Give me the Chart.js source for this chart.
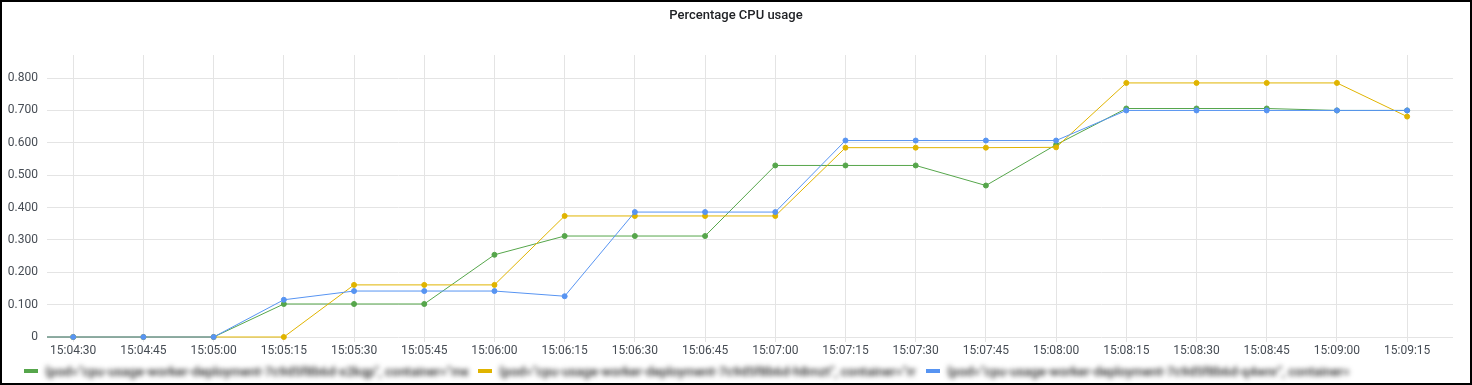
<!DOCTYPE html>
<html>
<head>
<meta charset="utf-8">
<script src="https://cdn.jsdelivr.net/npm/chart.js@4/dist/chart.umd.min.js"></script>
<style>
  html, body { margin: 0; padding: 0; background: #fff; }
  #panel { position: relative; width: 1472px; height: 385px; overflow: hidden; font-family: Roboto, "Noto Sans", sans-serif; }
  #frame { position: absolute; left: 0; top: 0; width: 1472px; height: 385px; box-sizing: border-box; border: 2px solid #000; pointer-events: none; }
  #title { position: absolute; left: 0; top: 7px; width: 1472px; text-align: center; font-size: 13px; font-weight: 500; color: #202226; }
  #chartBox { position: absolute; left: 0; top: 0; width: 1472px; height: 363px; }
  #legend { position: absolute; left: 24px; top: 361px; height: 20px; display: flex; align-items: center; font-size: 13px; font-weight: 500; color: #2a2a2a; }
  .item { display: flex; align-items: center; margin-right: 10px; }
  .swatch { width: 14px; height: 4px; margin-right: 7px; }
  .label { display: inline-block; white-space: nowrap; overflow: hidden; filter: blur(2.6px); }
</style>
</head>
<body>
<div id="panel">
  <div id="chartBox"><canvas id="cpuChart"></canvas></div>
  <div id="title">Percentage CPU usage</div>
  <div id="legend"></div>
  <div id="frame"></div>
</div>
<script>
// sample times (the first one lies just left of the visible range)
const times = ["15:04:15", "15:04:30", "15:04:45", "15:05:00", "15:05:15", "15:05:30", "15:05:45",
  "15:06:00", "15:06:15", "15:06:30", "15:06:45", "15:07:00", "15:07:15", "15:07:30",
  "15:07:45", "15:08:00", "15:08:15", "15:08:30", "15:08:45", "15:09:00", "15:09:15"];

const greenValues = [0, 0, 0, 0, 0.102, 0.102, 0.102, 0.254, 0.312, 0.312, 0.312,
  0.530, 0.530, 0.530, 0.468, 0.594, 0.706, 0.706, 0.706, 0.700, 0.700];
const yellowValues = [0, 0, 0, 0, 0, 0.161, 0.161, 0.161, 0.374, 0.374, 0.374,
  0.374, 0.585, 0.585, 0.585, 0.586, 0.785, 0.785, 0.785, 0.785, 0.681];
const blueValues = [0, 0, 0, 0, 0.115, 0.142, 0.142, 0.142, 0.126, 0.386, 0.386,
  0.386, 0.607, 0.607, 0.607, 0.607, 0.700, 0.700, 0.700, 0.700, 0.700];

const seriesNames = [
  '{pod="cpu-usage-worker-deployment-7c9d5f8b6d-x2kqp", container="metrics-agent", node="pool-a"}',
  '{pod="cpu-usage-worker-deployment-7c9d5f8b6d-h8mzt", container="metrics-agent", node="pool-b"}',
  '{pod="cpu-usage-worker-deployment-7c9d5f8b6d-q4wnr", container="metrics-agent", node="pool-c"}'
];
const seriesColors = ["#56a64b", "#e0b400", "#5794f2"];

const toSec = t => {
  const [h, m, s] = t.split(":").map(Number);
  return h * 3600 + m * 60 + s;
};
const pad = n => String(n).padStart(2, "0");
const fmtTime = v => `${pad(Math.floor(v / 3600))}:${pad(Math.floor(v / 60) % 60)}:${pad(v % 60)}`;

const xs = times.map(toSec);
const toPoints = vals => vals.map((v, i) => ({ x: xs[i], y: v }));

function makeSet(vals, idx, order) {
  return {
    label: seriesNames[idx],
    data: toPoints(vals),
    borderColor: seriesColors[idx],
    backgroundColor: seriesColors[idx],
    borderWidth: 1,
    pointRadius: 2.5,
    pointBorderWidth: 1,
    tension: 0,
    order: order,
    clip: { left: 0, right: 0, top: 5, bottom: 5 }
  };
}

const gridColor = "#e4e4e4";
const tickColor = "#464c54";

new Chart(document.getElementById("cpuChart"), {
  type: "line",
  data: {
    datasets: [
      makeSet(greenValues, 0, 3),
      makeSet(yellowValues, 1, 2),
      makeSet(blueValues, 2, 1)
    ]
  },
  options: {
    responsive: true,
    maintainAspectRatio: false,
    animation: false,
    layout: { padding: { top: 55, right: 19, bottom: 2.6, left: 0 } },
    plugins: {
      legend: { display: false },
      tooltip: { enabled: false }
    },
    scales: {
      x: {
        type: "linear",
        min: toSec("15:04:30") - 5.6,
        max: toSec("15:09:15") + 9.8,
        border: { display: false },
        grid: { color: gridColor, drawTicks: true, tickLength: 5, tickColor: gridColor },
        ticks: {
          stepSize: 15,
          includeBounds: false,
          autoSkip: false,
          maxRotation: 0,
          padding: 2,
          color: tickColor,
          font: { family: "Roboto", size: 12 },
          callback: v => fmtTime(v)
        }
      },
      y: {
        min: 0,
        max: 0.8713,
        border: { display: false },
        grid: { color: gridColor, drawTicks: false },
        afterFit: scale => { scale.width = 47; },
        ticks: {
          stepSize: 0.1,
          includeBounds: false,
          padding: 9,
          color: tickColor,
          font: { family: "Roboto", size: 12 },
          callback: v => v === 0 ? "0" : v.toFixed(3)
        }
      }
    }
  }
});

const legend = document.getElementById("legend");
const labelWidths = [423, 417, 402];
seriesNames.forEach((name, i) => {
  const item = document.createElement("div");
  item.className = "item";
  item.innerHTML = `<span class="swatch" style="background:${seriesColors[i]}"></span>` +
    `<span class="label" style="width:${labelWidths[i]}px"></span>`;
  item.querySelector(".label").textContent = name;
  legend.appendChild(item);
});
</script>
</body>
</html>
